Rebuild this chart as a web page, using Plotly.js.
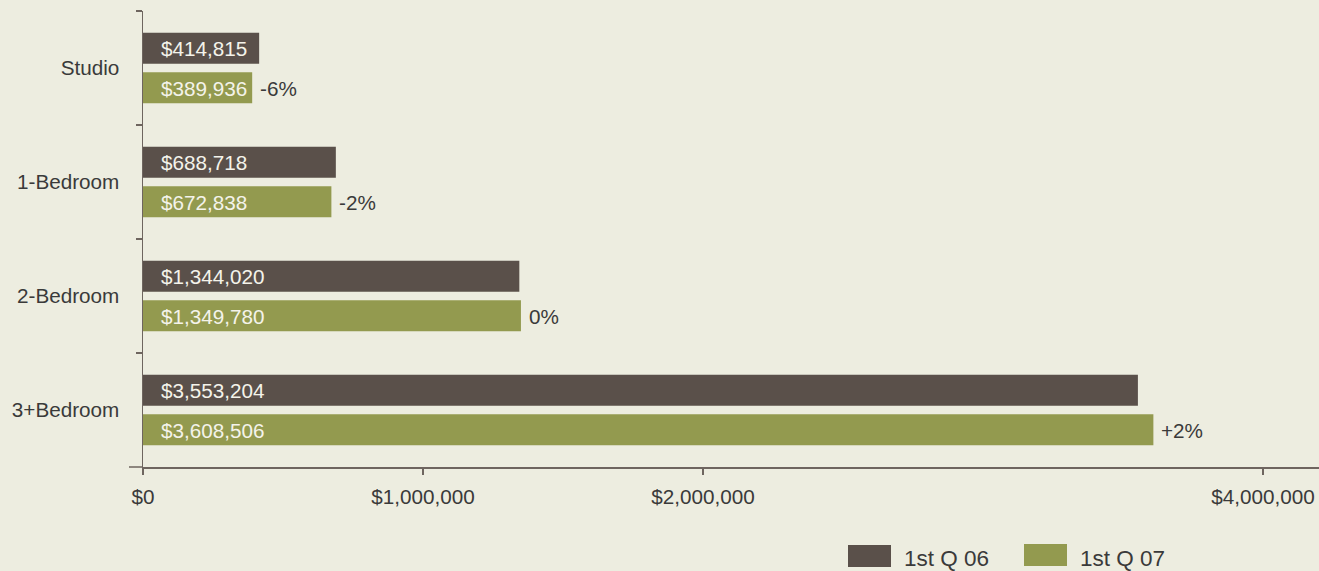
<!DOCTYPE html>
<html>
<head>
<meta charset="utf-8">
<script src="https://cdn.plot.ly/plotly-3.0.1.min.js"></script>
<style>
  html, body { margin: 0; padding: 0; background: #edede0; }
  #chart { width: 1319px; height: 571px; }
</style>
</head>
<body>
<div id="chart"></div>
<script>
// ---- data ----
const categories = ["Studio", "1-Bedroom", "2-Bedroom", "3+Bedroom"];
const q06Values = [414815, 688718, 1344020, 3553204];
const q07Values = [389936, 672838, 1349780, 3608506];
const changeLabels = ["-6%", "-2%", "0%", "+2%"];
const seriesNames = ["1st Q 06", "1st Q 07"];
const tickValues = [0, 1000000, 2000000, 4000000];
const tickLabels = ["$0", "$1,000,000", "$2,000,000", "$4,000,000"];

// ---- styles ----
const BG = "#edede0";
const DARK = "#5a504a";
const GREEN = "#939a4f";
const AXIS = "#6e655f";
const TEXT = "#3a3a3a";
const BARTEXT = "#f4f3ea";
const FONT = "Liberation Sans, Arial, sans-serif";
const FS = 20.7;

const W = 1319, H = 571;
const M = { l: 143, r: 0, t: 11, b: 104 };
const plotW = W - M.l - M.r;
const plotH = H - M.t - M.b;
const pxPerDollar = 280 / 1e6;
const xMax = plotW / pxPerDollar;

const fmt = v => "$" + v.toLocaleString("en-US");

const traces = [
  { type: "bar", orientation: "h", name: seriesNames[0], y: categories, x: q06Values,
    marker: { color: DARK }, hoverinfo: "skip" },
  { type: "bar", orientation: "h", name: seriesNames[1], y: categories, x: q07Values,
    marker: { color: GREEN }, hoverinfo: "skip" }
];

const annotations = [];
categories.forEach((c, i) => {
  annotations.push({ x: 0, y: c, xref: "x", yref: "y", text: fmt(q06Values[i]),
    xanchor: "left", yanchor: "middle", xshift: 16, yshift: 19.5, showarrow: false,
    font: { family: FONT, size: FS, color: BARTEXT } });
  annotations.push({ x: 0, y: c, xref: "x", yref: "y", text: fmt(q07Values[i]),
    xanchor: "left", yanchor: "middle", xshift: 16, yshift: -20, showarrow: false,
    font: { family: FONT, size: FS, color: BARTEXT } });
  annotations.push({ x: q07Values[i], y: c, xref: "x", yref: "y", text: changeLabels[i],
    xanchor: "left", yanchor: "middle", xshift: 6, yshift: -20, showarrow: false,
    font: { family: FONT, size: FS, color: TEXT } });
});

// custom legend
const px2x = px => (px - M.l) / plotW;
const py2y = py => (M.t + plotH - py) / plotH;
const legendItems = [
  { name: seriesNames[0], color: DARK, x0: 848, x1: 891, y0: 545, y1: 567, tx: 902 },
  { name: seriesNames[1], color: GREEN, x0: 1024, x1: 1067, y0: 544, y1: 566, tx: 1078 }
];
const shapes = [
  { type: "line", xref: "paper", yref: "paper", x0: px2x(129), x1: 0, y0: 0, y1: 0,
    line: { color: AXIS, width: 1.5 } }
];
legendItems.forEach(it => {
  shapes.push({ type: "rect", xref: "paper", yref: "paper",
    x0: px2x(it.x0), x1: px2x(it.x1), y0: py2y(it.y1), y1: py2y(it.y0),
    fillcolor: it.color, line: { width: 0 } });
  annotations.push({ xref: "paper", yref: "paper", x: px2x(it.tx), y: py2y(558),
    xanchor: "left", yanchor: "middle", text: it.name, showarrow: false,
    font: { family: FONT, size: 22.5, color: TEXT } });
});

const layout = {
  width: W, height: H,
  margin: M,
  paper_bgcolor: BG, plot_bgcolor: BG,
  showlegend: false,
  barmode: "group",
  bargap: 0.307,
  bargroupgap: 0.215,
  font: { family: FONT, size: FS, color: TEXT },
  xaxis: {
    range: [0, xMax], tickmode: "array", tickvals: tickValues, ticktext: tickLabels,
    ticks: "outside", ticklen: 6, tickwidth: 1.5, tickcolor: AXIS,
    showline: true, linecolor: AXIS, linewidth: 1.5,
    showgrid: false, zeroline: false,
    tickfont: { family: FONT, size: FS, color: TEXT },
    ticklabelstandoff: 5, fixedrange: true
  },
  yaxis: {
    type: "category", categoryorder: "array", categoryarray: categories,
    autorange: "reversed",
    ticks: "outside", ticklen: 6, tickwidth: 1.5, tickcolor: AXIS, tickson: "boundaries",
    showline: true, linecolor: AXIS, linewidth: 1.5,
    showgrid: false, zeroline: false,
    tickfont: { family: FONT, size: FS, color: TEXT },
    ticklabelstandoff: 18, fixedrange: true
  },
  annotations: annotations,
  shapes: shapes
};

Plotly.newPlot("chart", traces, layout, { staticPlot: true, displayModeBar: false });
</script>
</body>
</html>
